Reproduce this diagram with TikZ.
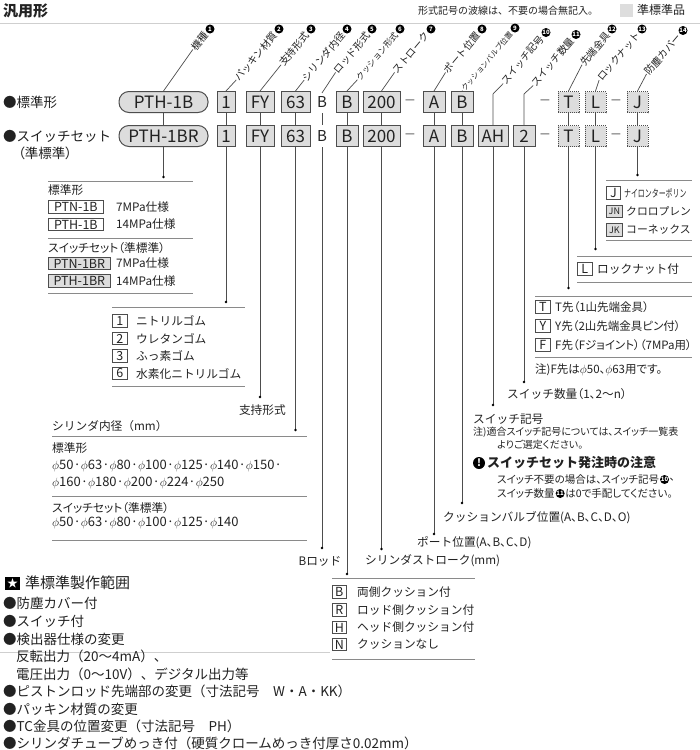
\documentclass[tikz,border=0pt]{standalone}
\usepackage{fontspec}
\setmainfont{Noto Sans CJK JP}
\newfontfamily\propjp{Noto Sans CJK JP}[RawFeature=+palt]
\usetikzlibrary{positioning}
\definecolor{BoxGray}{HTML}{DDDDDD}
\definecolor{EdgeGray}{HTML}{4D4D4D}
\definecolor{RuleGray}{HTML}{8A8A8A}
\definecolor{FaintGray}{HTML}{CFCFCF}
\definecolor{Ink}{HTML}{222222}
\newcommand\fsz[1]{\fontsize{#1}{#1}\selectfont}
\newcommand\phd{$\phi$}
\tikzset{codebox/.style={draw=EdgeGray,fill=BoxGray,line width=1pt,minimum height=21pt,inner sep=0pt,text=Ink,font=\fsz{17}},optbox/.style={codebox,densely dotted,minimum width=21pt},pillbox/.style={codebox,rounded corners=10pt,minimum width=89pt},diaglabel/.style={rotate=50,anchor=east,inner sep=0.4pt,text=Ink,font=\fsz{10}},numdisc/.style={circle,fill=black,text=white,inner sep=0pt,minimum size=9pt,font=\fsz{6}\bfseries},leader/.style={draw=EdgeGray,line width=0.7pt},enddot/.style={circle,fill=black,inner sep=0pt,minimum size=2.8pt},tablerule/.style={draw=RuleGray,line width=0.8pt},keybox/.style={draw=EdgeGray,fill=white,line width=0.7pt,anchor=west,inner sep=0pt,minimum height=12.5pt,text=Ink,font=\fsz{12.5}},keyfill/.style={keybox,fill=BoxGray},plain/.style={anchor=west,inner sep=0pt,text=Ink,font=\fsz{11.7}},dashmark/.style={text=Ink,font=\fsz{11}}}

\begin{document}
\begin{tikzpicture}[x=1pt,y=-1pt]
\useasboundingbox[fill=white] (0,0) rectangle (700,750);

% heading
\node[plain,font=\fsz{15}\bfseries] (title) at (3,11) {汎用形};
\node[plain,font=\fsz{10}] (wavenote) at (418,11) {形式記号の波線は、不要の場合無記入。};
\node[fill=BoxGray,minimum size=13pt,inner sep=0pt] (legbox) at (626,10) {};
\node[plain,font=\fsz{12}] (legtext) at (637,10) {準標準品};
\draw[FaintGray,line width=1pt] (0,23) -- (700,23);

% the two code rows
\node[plain,font=\fsz{13.5}] (rowstd) at (3,102) {●標準形};
\node[plain,font=\fsz{13.5}] (rowsw) at (3,136) {●スイッチセット};
\node[plain,font=\propjp\fsz{13.5}] (rowswb) at (18,153) {（準標準）};
\foreach \r/\y/\m in {a/102/PTH-1B,b/136/PTH-1BR}{
  \node[pillbox] (mt\r) at (163.5,\y) {\m};
  \node[codebox,minimum width=18pt] (pk\r) at (226,\y) {1};
  \node[codebox,minimum width=28pt] (sp\r) at (260,\y) {FY};
  \node[codebox,minimum width=29pt] (bo\r) at (295.5,\y) {63};
  \node[text=Ink,font=\fsz{15}] (rd\r) at (322,\y) {B};
  \node[codebox,minimum width=22pt] (cu\r) at (347,\y) {B};
  \node[codebox,minimum width=37pt] (st\r) at (381.5,\y) {200};
  \node[dashmark] (da\r) at (410,\y) {—};
  \node[codebox,minimum width=22pt] (po\r) at (434,\y) {A};
  \node[codebox,minimum width=22pt] (cv\r) at (462,\y) {B};
  \node[dashmark] (db\r) at (545,\y) {—};
  \node[optbox] (tp\r) at (568.5,\y) {T};
  \node[optbox] (ln\r) at (595.5,\y) {L};
  \node[dashmark] (dc\r) at (616,\y) {—};
  \node[optbox] (cr\r) at (637.5,\y) {J};
}
\node[codebox,minimum width=30pt] (swb) at (493,136) {AH};
\node[codebox,minimum width=22pt] (snb) at (524,136) {2};
\foreach \n in {mt,pk,sp,bo,cu,st,po,cv,tp,ln,cr}
  \draw[leader] (\n a.south) -- (\n b.north);
\draw[leader,shorten <=2pt,shorten >=2pt] (rda.south) -- (rdb.north);

% slanted item names
\foreach \n/\lab/\k/\x/\yy/\s in {mt/機種/1/210/29/10,pk/パッキン材質/2/279/29/10,sp/支持形式/3/311/29/10,bo/シリンダ内径/4/347/29/10,rd/ロッド形式/5/372/29/10,cu/クッション形式/6/400/29/8.5,st/ストローク/7/431/29/10,po/ポート位置/8/482/29/10,cv/クッションバルブ位置/9/515/28/7.5,tp/先端金具/12/612/29/10,ln/ロックナット/13/642/29/10,cr/防塵カバー/14/683/30.5/10}{
  \node[numdisc] (\n c) at (\x,\yy) {\k};
  \node[diaglabel,font=\fsz{\s}] (\n l) at ([shift={(130:5.5)}]\n c.center) {\lab};
  \draw[leader] (\n a.north) -- (\n l.west);
}
\node[numdisc] (swc) at (546,32.5) {10};
\node[diaglabel] (swl) at ([shift={(130:5.5)}]swc.center) {スイッチ記号};
\draw[leader] (swl.west) -- (493,94) -- (swb.north);
\node[numdisc] (snc) at (576,34.5) {11};
\node[diaglabel] (snl) at ([shift={(130:5.5)}]snc.center) {スイッチ数量};
\draw[leader] (snl.west) -- (524,94) -- (snb.north);

% leaders down to the option lists
\foreach \n/\yd in {mt/177,pk/302,sp/397,bo/430,cu/574,st/549,po/534,cv/503,sw/405,sn/382,tp/288,ln/249,cr/175}
  \draw[leader] (\n b.south) -- (\n b.south |- 0,\yd) node[enddot] (\n d) {};
\draw[leader,shorten <=2pt] (rdb.south) -- (rdb.south |- 0,548) node[enddot] (rdd) {};

% machine type
\draw[tablerule] (48,181) -- (193,181);
\node[plain] (mtstd) at (48,190.5) {標準形};
\node[keybox,minimum width=55pt] (mtk1) at (48,207) {PTN-1B};
\node[plain] (mtv1) at (116,207) {7MPa仕様};
\node[keybox,minimum width=55pt] (mtk2) at (48,224.5) {PTH-1B};
\node[plain] (mtv2) at (116,224.5) {14MPa仕様};
\draw[tablerule] (48,238) -- (193,238);
\node[plain,font=\propjp\fsz{11.7}] (mtsw) at (48,248.5) {スイッチセット（準標準）};
\node[keyfill,minimum width=62pt] (mtk3) at (48,263.5) {PTN-1BR};
\node[plain] (mtv3) at (116,263.5) {7MPa仕様};
\node[keyfill,minimum width=62pt] (mtk4) at (48,281) {PTH-1BR};
\node[plain] (mtv4) at (116,281) {14MPa仕様};
\draw[tablerule] (48,293) -- (193,293);

% packing
\draw[tablerule] (112,307) -- (245,307);
\foreach \k/\lab/\y [count=\i] in {1/ニトリルゴム/321,2/ウレタンゴム/338.5,3/ふっ素ゴム/356,6/水素化ニトリルゴム/373.5}{
  \node[keybox,minimum width=15pt] (pkk\i) at (112,\y) {\k};
  \node[plain] (pkv\i) at (136,\y) {\lab};
}
\draw[tablerule] (112,386) -- (245,386);

% mounting
\node[plain,anchor=east] (sptx) at (286,410) {支持形式};

% bore
\node[plain] (botitle) at (52,426) {シリンダ内径（mm）};
\draw[tablerule] (52,436) -- (307,436);
\node[plain] (bostd) at (52,448) {標準形};
\node[plain,font=\fsz{13}] (bol1) at (52,466) {\phd50·\phd63·\phd80·\phd100·\phd125·\phd140·\phd150·};
\node[plain,font=\fsz{13}] (bol2) at (52,483) {\phd160·\phd180·\phd200·\phd224·\phd250};
\draw[tablerule] (52,496) -- (307,496);
\node[plain,font=\propjp\fsz{11.7}] (bosw) at (52,508) {スイッチセット（準標準）};
\node[plain,font=\fsz{13}] (bol3) at (52,523) {\phd50·\phd63·\phd80·\phd100·\phd125·\phd140};
\draw[tablerule] (52,540) -- (307,540);

% rod, stroke, ports
\node[plain,anchor=center] (rdtx) at (320,561) {Bロッド};
\node[plain] (sttx) at (365,561) {シリンダストローク(mm)};
\node[plain] (potx) at (417,543) {ポート位置{\propjp(A、B、C、D)}};
\node[plain] (cvtx) at (443,518) {クッションバルブ位置{\propjp(A、B、C、D、O)}};

% cushion
\draw[tablerule] (332,578) -- (475,578);
\foreach \k/\lab/\y [count=\i] in {B/両側クッション付/592,R/ロッド側クッション付/610,H/ヘッド側クッション付/627.5,N/クッションなし/644.5}{
  \node[keybox,minimum width=14pt] (cuk\i) at (332,\y) {\k};
  \node[plain] (cuv\i) at (357,\y) {\lab};
}
\draw[tablerule] (332,659) -- (475,659);

% switches
\node[plain] (sntx) at (507,394) {スイッチ数量{\propjp（1、2〜n）}};
\node[plain] (swtx) at (473,419) {スイッチ記号};
\node[plain,font=\propjp\fsz{10}] (swn1) at (473,432) {注)適合スイッチ記号については、スイッチ一覧表};
\node[plain,font=\propjp\fsz{10}] (swn2) at (497,444.5) {よりご選定ください。};
\node[circle,fill=black,minimum size=12pt,inner sep=0pt,text=white,font=\fsz{10}\bfseries] (warn) at (479,463) {!};
\node[plain,font=\fsz{13}\bfseries] (warntx) at (487,463) {スイッチセット発注時の注意};
\node[plain,font=\propjp\fsz{10.5}] (warn1) at (497,479.5) {スイッチ不要の場合は、スイッチ記号};
\node[numdisc,right=0.5pt of warn1] (warn1c) {10};
\node[plain,font=\propjp\fsz{10.5},right=0.3pt of warn1c] (warn1e) {、};
\node[plain,font=\propjp\fsz{10.5}] (warn2) at (497,493.5) {スイッチ数量};
\node[numdisc,right=0.5pt of warn2] (warn2c) {11};
\node[plain,font=\propjp\fsz{10.5},right=0.3pt of warn2c] (warn2e) {は0で手配してください。};

% rod end
\draw[tablerule] (535,296) -- (692,296);
\foreach \k/\lab/\y [count=\i] in {T/T先（1山先端金具）/307,Y/Y先（2山先端金具ピン付）/326,F/F先（Fジョイント）（7MPa用）/345}{
  \node[keybox,minimum width=15pt] (tpk\i) at (535,\y) {\k};
  \node[plain,font=\propjp\fsz{11.5}] (tpv\i) at (555,\y) {\lab};
}
\draw[tablerule] (535,357) -- (692,357);
\node[plain,font=\propjp\fsz{11.5}] (tpnote) at (535,369.5) {注)F先は\phd50、\phd63用です。};

% lock nut
\draw[tablerule] (577,256) -- (692,256);
\node[keybox,minimum width=15pt] (lnk) at (577,269) {L};
\node[plain] (lnv) at (597,269) {ロックナット付};
\draw[tablerule] (577,282) -- (692,282);

% boot
\draw[tablerule] (606,180) -- (692,180);
\node[keybox,minimum width=14pt] (crk1) at (606,193) {J};
\node[plain,font=\fsz{10.5},xscale=0.66,transform shape] (crv1) at (624,193) {ナイロンターポリン};
\node[keyfill,minimum width=16pt,font=\fsz{9}] (crk2) at (606,211.5) {JN};
\node[plain,font=\fsz{10.8}] (crv2) at (626,211.5) {クロロプレン};
\node[keyfill,minimum width=16pt,font=\fsz{9}] (crk3) at (606,230) {JK};
\node[plain,font=\fsz{10.8}] (crv3) at (626,230) {コーネックス};
\draw[tablerule] (606,240) -- (692,240);

% semi-standard range
\draw[FaintGray,line width=0.8pt] (0,652) -- (330,652);
\node[fill=black,minimum width=15pt,minimum height=13pt,inner sep=0pt,text=white,font=\fsz{11}] (starbox) at (12.5,583) {★};
\node[plain,font=\fsz{15}] (semititle) at (25,583) {準標準製作範囲};
\foreach \lab/\x/\y [count=\i] in {●防塵カバー付/3/603,●スイッチ付/3/621,●検出器仕様の変更/3/639,反転出力（20〜4mA）、/16/656.5,電圧出力（0〜10V）、デジタル出力等/16/674,●ピストンロッド先端部の変更（寸法記号　W・A・KK）/3/691.5,●パッキン材質の変更/3/709,●TC金具の位置変更（寸法記号　PH）/3/726.5,●シリンダチューブめっき付（硬質クロームめっき付厚さ0.02mm）/3/743.5}
  \node[plain,font=\fsz{13.5}] (semi\i) at (\x,\y) {\lab};
\end{tikzpicture}
\end{document}
